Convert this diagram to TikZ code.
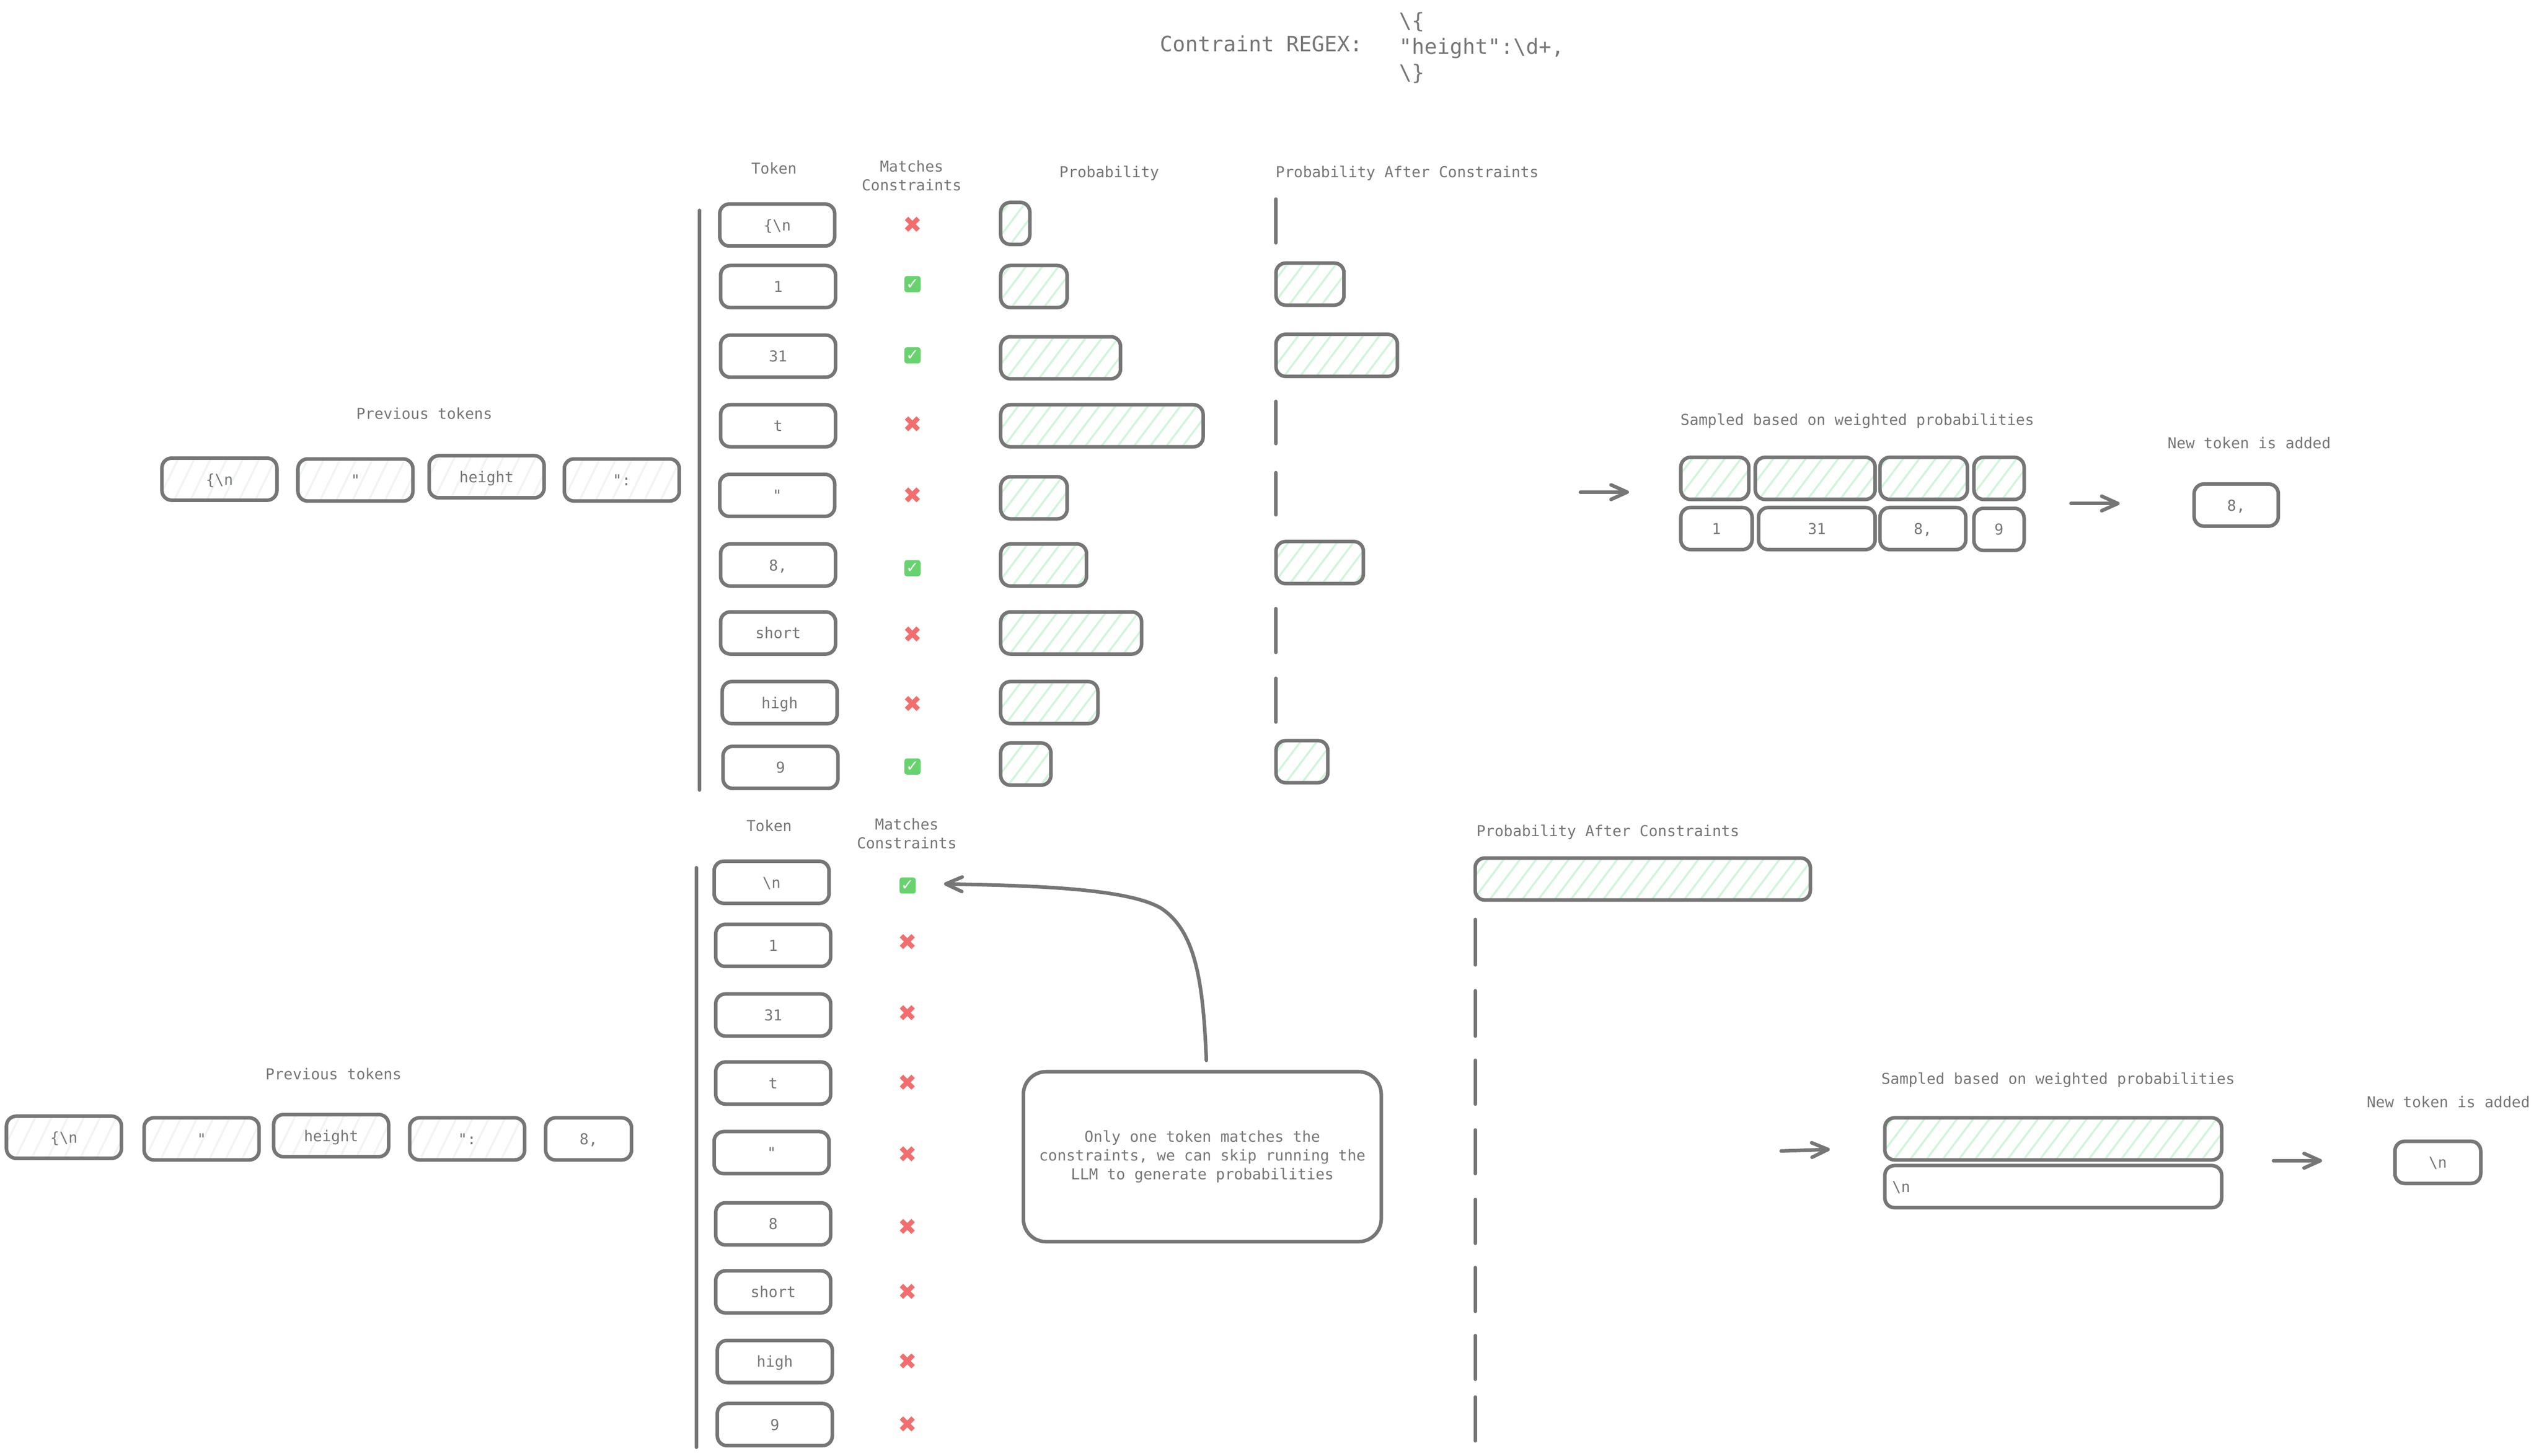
\documentclass[tikz,border=0pt]{standalone}
\usepackage{fontspec}
\setmainfont{DejaVu Sans Mono}
\newfontfamily\symbfont{DejaVu Sans}
\usetikzlibrary{patterns.meta,arrows.meta}

\definecolor{inkgray}{HTML}{767676}
\definecolor{hatchgreen}{HTML}{CFF5DA}
\definecolor{hatchgray}{HTML}{F1F3F5}
\definecolor{crossred}{HTML}{F26D6D}
\definecolor{tickgreen}{HTML}{68D36E}

\tikzset{
  lbl/.style={text=inkgray, font=\fontsize{9.3}{11.5}\selectfont, align=center, inner sep=0},
  boxline/.style={draw=inkgray, line width=2.2pt, rounded corners=6pt},
  tokenbox/.style={lbl, boxline, minimum height=26pt, minimum width=71pt, text height=7pt, text depth=0pt},
  hatchbox/.style={tokenbox, pattern={Lines[angle=53,distance=8pt,line width=1.2pt]}, pattern color=hatchgreen},
  paleboxed/.style={tokenbox, pattern={Lines[angle=64,distance=9pt,line width=1.2pt]}, pattern color=hatchgray},
  zerobar/.style={draw=inkgray, line width=2.2pt, line cap=round},
  crossmark/.style={text=crossred, inner sep=0, font=\symbfont\fontsize{14}{14}\selectfont},
  tickmark/.style={fill=tickgreen, text=white, inner sep=0, rounded corners=1.5pt, minimum width=10pt, minimum height=10pt, font=\symbfont\fontsize{9.5}{9.5}\selectfont},
  flowarrow/.style={draw=inkgray, line width=2.2pt, line cap=round, -{Straight Barb[length=10pt,width=9pt,round]}},
}

\begin{document}
\begin{tikzpicture}[x=1pt,y=-1pt]

\useasboundingbox (0,0) rectangle (1568,899.2);

% Regex

\node[lbl, font=\fontsize{13}{16}\selectfont] (regexlabel) at (779,27) {Contraint REGEX:};
\node[lbl, font=\fontsize{13}{16}\selectfont, align=left, anchor=west] (regex) at (864,29.5) {\textbackslash\{\\\textquotedbl height\textquotedbl:\textbackslash d+,\\\textbackslash\}};

% First step: headers

\node[lbl] (h1_token) at (478,104) {Token};
\node[lbl] (h1_match) at (563,108.5) {Matches\\Constraints};
\node[lbl] (h1_prob) at (685,107) {Probability};
\node[lbl] (h1_after) at (869,107) {Probability After Constraints};

% First step: previous tokens

\node[lbl] (p1_title) at (262,255.5) {Previous tokens};
\node[paleboxed] (p1_1) at (135.5,296) {\{\textbackslash n};
\node[paleboxed] (p1_2) at (219.5,296.5) {\textquotedbl};
\node[paleboxed] (p1_3) at (300.5,294.5) {height};
\node[paleboxed] (p1_4) at (384,296.5) {\textquotedbl:};

% First step: tokens

\coordinate (b1_top) at (432,130);
\coordinate (b1_bot) at (432,488);
\draw[zerobar] (b1_top) -- (b1_bot);

\node[tokenbox] (t1_1) at (480,139) {\{\textbackslash n};
\node[tokenbox] (t1_2) at (480.5,177) {1};
\node[tokenbox] (t1_3) at (480.5,220) {31};
\node[tokenbox] (t1_4) at (480.5,263) {t};
\node[tokenbox] (t1_5) at (480,306) {\textquotedbl};
\node[tokenbox] (t1_6) at (480.5,349) {8,};
\node[tokenbox] (t1_7) at (480.5,391) {short};
\node[tokenbox] (t1_8) at (481.5,434) {high};
\node[tokenbox] (t1_9) at (482,474) {9};

% First step: constraint marks

\node[crossmark] (m1_1) at (563.5,139) {✖};
\node[tickmark] (m1_2) at (563.5,175.5) {✓};
\node[tickmark] (m1_3) at (563.5,219.5) {✓};
\node[crossmark] (m1_4) at (563.5,262) {✖};
\node[crossmark] (m1_5) at (563.5,306) {✖};
\node[tickmark] (m1_6) at (563.5,351) {✓};
\node[crossmark] (m1_7) at (563.5,392) {✖};
\node[crossmark] (m1_8) at (563.5,435) {✖};
\node[tickmark] (m1_9) at (563.5,473.5) {✓};

% First step: probabilities

\node[hatchbox, minimum width=18pt] (q1_1) at (627,138) {};
\node[hatchbox, minimum width=41pt] (q1_2) at (638.5,177) {};
\node[hatchbox, minimum width=74pt] (q1_3) at (655,221) {};
\node[hatchbox, minimum width=125pt] (q1_4) at (680.5,263) {};
\node[hatchbox, minimum width=41pt] (q1_5) at (638.5,307.5) {};
\node[hatchbox, minimum width=53pt] (q1_6) at (644.5,349) {};
\node[hatchbox, minimum width=87pt] (q1_7) at (661.5,391) {};
\node[hatchbox, minimum width=60pt] (q1_8) at (648,434) {};
\node[hatchbox, minimum width=31pt] (q1_9) at (633.5,472) {};

% First step: probabilities after constraints

\coordinate (z1_1a) at (788,123);
\coordinate (z1_1b) at (788,150);
\coordinate (z1_4a) at (788,248);
\coordinate (z1_4b) at (788,274);
\coordinate (z1_5a) at (788,292);
\coordinate (z1_5b) at (788,318);
\coordinate (z1_7a) at (788,376);
\coordinate (z1_7b) at (788,403);
\coordinate (z1_8a) at (788,419);
\coordinate (z1_8b) at (788,446);
\draw[zerobar] (z1_1a) -- (z1_1b);
\draw[zerobar] (z1_4a) -- (z1_4b);
\draw[zerobar] (z1_5a) -- (z1_5b);
\draw[zerobar] (z1_7a) -- (z1_7b);
\draw[zerobar] (z1_8a) -- (z1_8b);
\node[hatchbox, minimum width=42pt] (a1_2) at (809,175.5) {};
\node[hatchbox, minimum width=75pt] (a1_3) at (825.5,219.5) {};
\node[hatchbox, minimum width=54pt] (a1_6) at (815,347.5) {};
\node[hatchbox, minimum width=32pt] (a1_9) at (804,470.5) {};

% First step: sampling

\coordinate (f1_a) at (976,304);
\coordinate (f1_b) at (1006,304);
\draw[flowarrow] (f1_a) -- (f1_b);
\node[lbl] (s1_title) at (1147,260) {Sampled based on weighted probabilities};
\node[hatchbox, minimum width=42pt] (s1_1) at (1059,295.5) {};
\node[hatchbox, minimum width=74pt] (s1_2) at (1121,295.5) {};
\node[hatchbox, minimum width=54pt] (s1_3) at (1188,295.5) {};
\node[hatchbox, minimum width=31pt] (s1_4) at (1234.5,295.5) {};
\node[tokenbox, minimum width=44pt] (w1_1) at (1060,326.5) {1};
\node[tokenbox, minimum width=72pt] (w1_2) at (1122,326.5) {31};
\node[tokenbox, minimum width=53pt] (w1_3) at (1187.5,326.5) {8,};
\node[tokenbox, minimum width=31pt] (w1_4) at (1234.5,327) {9};

\coordinate (g1_a) at (1279,311);
\coordinate (g1_b) at (1309,311);
\draw[flowarrow] (g1_a) -- (g1_b);
\node[lbl] (n1_title) at (1389,273.5) {New token is added};
\node[tokenbox, minimum width=52pt] (n1_box) at (1381,312) {8,};

% Second step: headers

\node[lbl] (h2_token) at (475,510) {Token};
\node[lbl] (h2_match) at (560,515) {Matches\\Constraints};
\node[lbl] (h2_after) at (993,514) {Probability After Constraints};

% Second step: previous tokens

\node[lbl] (p2_title) at (206,663.5) {Previous tokens};
\node[paleboxed] (p2_1) at (39.5,702.5) {\{\textbackslash n};
\node[paleboxed] (p2_2) at (124.5,703.5) {\textquotedbl};
\node[paleboxed] (p2_3) at (204.5,701.5) {height};
\node[paleboxed] (p2_4) at (288.5,703.5) {\textquotedbl:};
\node[tokenbox, minimum width=53pt] (p2_5) at (363.5,703.5) {8,};

% Second step: tokens

\coordinate (b2_top) at (430,536);
\coordinate (b2_bot) at (430,894);
\draw[zerobar] (b2_top) -- (b2_bot);

\node[tokenbox] (t2_1) at (476.5,545) {\textbackslash n};
\node[tokenbox] (t2_2) at (477.5,584) {1};
\node[tokenbox] (t2_3) at (477.5,627) {31};
\node[tokenbox] (t2_4) at (477.5,669) {t};
\node[tokenbox] (t2_5) at (476.5,712) {\textquotedbl};
\node[tokenbox] (t2_6) at (477.5,756) {8};
\node[tokenbox] (t2_7) at (477.5,798) {short};
\node[tokenbox] (t2_8) at (478.5,841) {high};
\node[tokenbox] (t2_9) at (478.5,880) {9};

% Second step: constraint marks

\node[tickmark] (m2_1) at (560.5,547) {✓};
\node[crossmark] (m2_2) at (560.5,582) {✖};
\node[crossmark] (m2_3) at (560.5,626) {✖};
\node[crossmark] (m2_4) at (560.5,669) {✖};
\node[crossmark] (m2_5) at (560.5,713) {✖};
\node[crossmark] (m2_6) at (560.5,758) {✖};
\node[crossmark] (m2_7) at (560.5,798) {✖};
\node[crossmark] (m2_8) at (560.5,841) {✖};
\node[crossmark] (m2_9) at (560.5,880) {✖};

% Second step: callout

\node[lbl, boxline, minimum width=221pt, minimum height=105pt, rounded corners=14pt] (note) at (742.5,714.5) {Only one token matches the\\constraints, we can skip running the\\LLM to generate probabilities};
\coordinate (note_start) at (745,655);
\coordinate (note_bend) at (717,561);
\coordinate (note_end) at (583,546);
\draw[flowarrow] (note_start) .. controls (743,605) and (738,575) .. (note_bend) .. controls (695,548) and (630,547) .. (note_end);

% Second step: probabilities after constraints

\node[hatchbox, minimum width=207pt] (a2_1) at (1014.5,543) {};
\coordinate (z2_2a) at (911,568);
\coordinate (z2_2b) at (911,596);
\coordinate (z2_3a) at (911,612);
\coordinate (z2_3b) at (911,640);
\coordinate (z2_4a) at (911,655);
\coordinate (z2_4b) at (911,682);
\coordinate (z2_5a) at (911,698);
\coordinate (z2_5b) at (911,725);
\coordinate (z2_6a) at (911,741);
\coordinate (z2_6b) at (911,768);
\coordinate (z2_7a) at (911,783);
\coordinate (z2_7b) at (911,810);
\coordinate (z2_8a) at (911,825);
\coordinate (z2_8b) at (911,852);
\coordinate (z2_9a) at (911,863);
\coordinate (z2_9b) at (911,890);
\draw[zerobar] (z2_2a) -- (z2_2b);
\draw[zerobar] (z2_3a) -- (z2_3b);
\draw[zerobar] (z2_4a) -- (z2_4b);
\draw[zerobar] (z2_5a) -- (z2_5b);
\draw[zerobar] (z2_6a) -- (z2_6b);
\draw[zerobar] (z2_7a) -- (z2_7b);
\draw[zerobar] (z2_8a) -- (z2_8b);
\draw[zerobar] (z2_9a) -- (z2_9b);

% Second step: sampling

\coordinate (f2_a) at (1100,711);
\coordinate (f2_b) at (1130,710);
\draw[flowarrow] (f2_a) -- (f2_b);
\node[lbl] (s2_title) at (1271,667) {Sampled based on weighted probabilities};
\node[hatchbox, minimum width=208pt] (s2_1) at (1268,703.5) {};
\node[tokenbox, minimum width=208pt, text width=199pt, align=left] (w2_1) at (1268,733) {\textbackslash n};

\coordinate (g2_a) at (1404,717);
\coordinate (g2_b) at (1434,717);
\draw[flowarrow] (g2_a) -- (g2_b);
\node[lbl] (n2_title) at (1512,680.5) {New token is added};
\node[tokenbox, minimum width=53pt] (n2_box) at (1505.5,718) {\textbackslash n};

\end{tikzpicture}
\end{document}
